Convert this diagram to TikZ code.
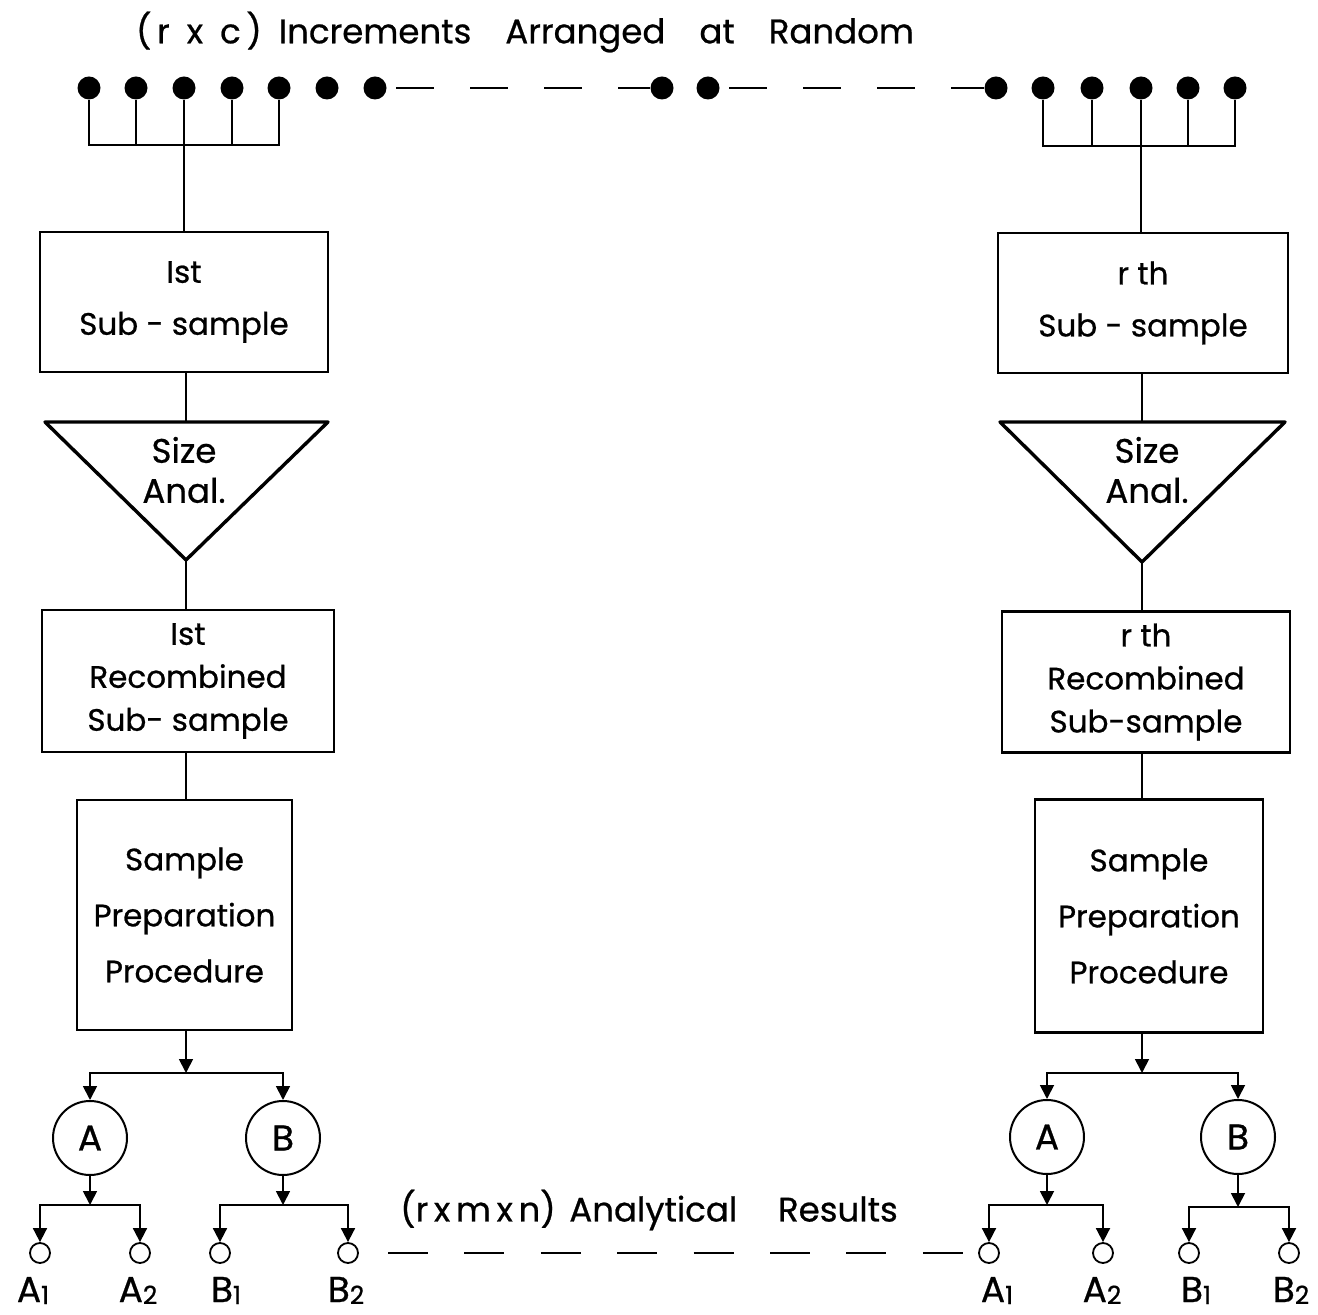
\documentclass[tikz,border=0pt]{standalone}
\usepackage{fontspec}
\setmainfont{Poppins}[FakeBold=0.7]
\usetikzlibrary{arrows.meta}

\newcommand{\sbs}[1]{\raisebox{-1pt}{\fontsize{12.5}{13}\selectfont #1}}

\tikzset{
  dot/.style={circle,fill,inner sep=0pt,minimum size=11.5pt},
  box/.style={draw,line width=1.3pt,align=center,inner sep=0pt,
    font=\fontsize{15.5}{#1}\selectfont},
  box/.default=26pt,
  tri/.style={line width=1.7pt,line join=round},
  txt/.style={inner sep=0pt,align=center,font=\fontsize{17}{20}\selectfont},
  bigc/.style={draw,circle,line width=1pt,inner sep=0pt,minimum size=37pt,
    font=\fontsize{18}{20}\selectfont},
  smallc/.style={draw,circle,line width=0.9pt,inner sep=0pt,minimum size=10pt},
  lab/.style={inner sep=0pt,anchor=base,font=\fontsize{18}{22}\selectfont},
  arr/.style={-{Triangle[length=7pt,width=7pt]}},
  dashline/.style={line width=1.1pt,dash pattern=on 19pt off 18pt,dash phase=32.5pt},
  dashlow/.style={line width=1.1pt,dash pattern=on 20pt off 18.2pt}
}

\begin{document}
\begin{tikzpicture}[x=0.5pt,y=-0.5pt,line width=0.9pt]
    \useasboundingbox (0,0) rectangle (1318,1315);

    % increments along the top
    \node[txt] (title) at (525,32)
        {(\,r\,\,\,x\,\,\,c\,)\hspace{0.5em}Increments\hspace{1em}Arranged\hspace{1em}at\hspace{1em}Random};

    \foreach \x [count=\i] in {89,136,184,232,279,327,375}
    {
        \node[dot] (l\i) at (\x,88) {};
    }
    \node[dot] (m1) at (662,88) {};
    \node[dot] (m2) at (708,88) {};
    \foreach \x [count=\i] in {996,1043,1092,1141,1188,1235}
    {
        \node[dot] (r\i) at (\x,88) {};
    }
    \draw[dashline] (l7) -- (m1);
    \draw[dashline] (m2) -- (r1);

    % 1st column
    \node[box,minimum width=144pt,minimum height=70pt] (sub1) at (184,302)
        {Ist\\Sub - sample};
    \coordinate (lbar) at (184,145);
    \draw (l1) |- (lbar) -| (l5);
    \draw (l2) -- (l2 |- lbar);
    \draw (l4) -- (l4 |- lbar);
    \draw (l3) -- (l3 |- sub1.north);

    \coordinate (tt1) at (186,422);
    \coordinate (ta1) at (186,560);
    \draw[tri] (45,422) -- (328,422) -- (ta1) -- cycle;
    \node[txt] (size1) at (184,470) {Size\\Anal.};
    \draw (sub1.south -| tt1) -- (tt1);

    \node[box=21.5pt,minimum width=146pt,minimum height=71pt] (rec1) at (188,681)
        {Ist\\Recombined\\Sub- sample};
    \draw (ta1) -- (ta1 |- rec1.north);

    \node[box=28pt,minimum width=107.5pt,minimum height=115pt] (prep1) at (184.5,915)
        {Sample\\Preparation\\Procedure};
    \draw (rec1.south -| ta1) -- (prep1.north -| ta1);

    % rth column
    \node[box,minimum width=145pt,minimum height=70pt] (subr) at (1143,303)
        {r th\\Sub - sample};
    \coordinate (rbar) at (1141,146);
    \draw (r2) |- (rbar) -| (r6);
    \draw (r3) -- (r3 |- rbar);
    \draw (r5) -- (r5 |- rbar);
    \draw (r4) -- (r4 |- subr.north);

    \coordinate (ttr) at (1142,422);
    \coordinate (tar) at (1142,562);
    \draw[tri] (1000,422) -- (1285,422) -- (tar) -- cycle;
    \node[txt] (sizer) at (1147,470) {Size\\Anal.};
    \draw (subr.south -| ttr) -- (ttr);

    \node[box=21.5pt,minimum width=144pt,minimum height=70.5pt] (recr) at (1146,682)
        {r th\\Recombined\\Sub-sample};
    \draw (tar) -- (tar |- recr.north);

    \node[box=28pt,minimum width=114pt,minimum height=116.5pt] (prepr) at (1149,916)
        {Sample\\Preparation\\Procedure};
    \draw (recr.south -| tar) -- (prepr.north -| tar);

    % analyses, 1st column
    \coordinate (fork1) at (186,1073);
    \draw[arr] (prep1.south -| fork1) -- (fork1);
    \node[bigc] (ca1) at (90,1138) {A};
    \node[bigc] (cb1) at (283,1138) {B};
    \draw[arr] (fork1) -| (ca1);
    \draw[arr] (fork1) -| (cb1);
    \coordinate (fa1) at (90,1205);
    \coordinate (fb1) at (283,1205);
    \draw[arr] (ca1) -- (fa1);
    \draw[arr] (cb1) -- (fb1);
    \node[smallc] (a11) at (40,1253) {};
    \node[smallc] (a21) at (140,1253) {};
    \node[smallc] (b11) at (220,1253) {};
    \node[smallc] (b21) at (348,1253) {};
    \draw[arr] (fa1) -| (a11);
    \draw[arr] (fa1) -| (a21);
    \draw[arr] (fb1) -| (b11);
    \draw[arr] (fb1) -| (b21);
    \node[lab] (la11) at (33,1302) {A\sbs{1}};
    \node[lab] (la21) at (138,1302) {A\sbs{2}};
    \node[lab] (lb11) at (226,1302) {B\sbs{1}};
    \node[lab] (lb21) at (346,1302) {B\sbs{2}};

    % analyses, rth column
    \coordinate (forkr) at (1142,1073);
    \draw[arr] (prepr.south -| forkr) -- (forkr);
    \node[bigc] (car) at (1047,1137) {A};
    \node[bigc] (cbr) at (1238,1137) {B};
    \draw[arr] (forkr) -| (car);
    \draw[arr] (forkr) -| (cbr);
    \coordinate (far) at (1047,1205);
    \coordinate (fbr) at (1238,1207);
    \draw[arr] (car) -- (far);
    \draw[arr] (cbr) -- (fbr);
    \node[smallc] (a1r) at (989,1253) {};
    \node[smallc] (a2r) at (1103,1253) {};
    \node[smallc] (b1r) at (1189,1253) {};
    \node[smallc] (b2r) at (1289,1253) {};
    \draw[arr] (far) -| (a1r);
    \draw[arr] (far) -| (a2r);
    \draw[arr] (fbr) -| (b1r);
    \draw[arr] (fbr) -| (b2r);
    \node[lab] (la1r) at (997,1302) {A\sbs{1}};
    \node[lab] (la2r) at (1102,1302) {A\sbs{2}};
    \node[lab] (lb1r) at (1196,1302) {B\sbs{1}};
    \node[lab] (lb2r) at (1291,1302) {B\sbs{2}};

    % results
    \node[txt] (results) at (649,1210) {(r\,x\,m\,x\,n)\hspace{0.4em}Analytical\hspace{1.2em}Results};
    \coordinate (dstart) at (388,1253);
    \draw[dashlow] (dstart) -- (a1r);

\end{tikzpicture}
\end{document}
